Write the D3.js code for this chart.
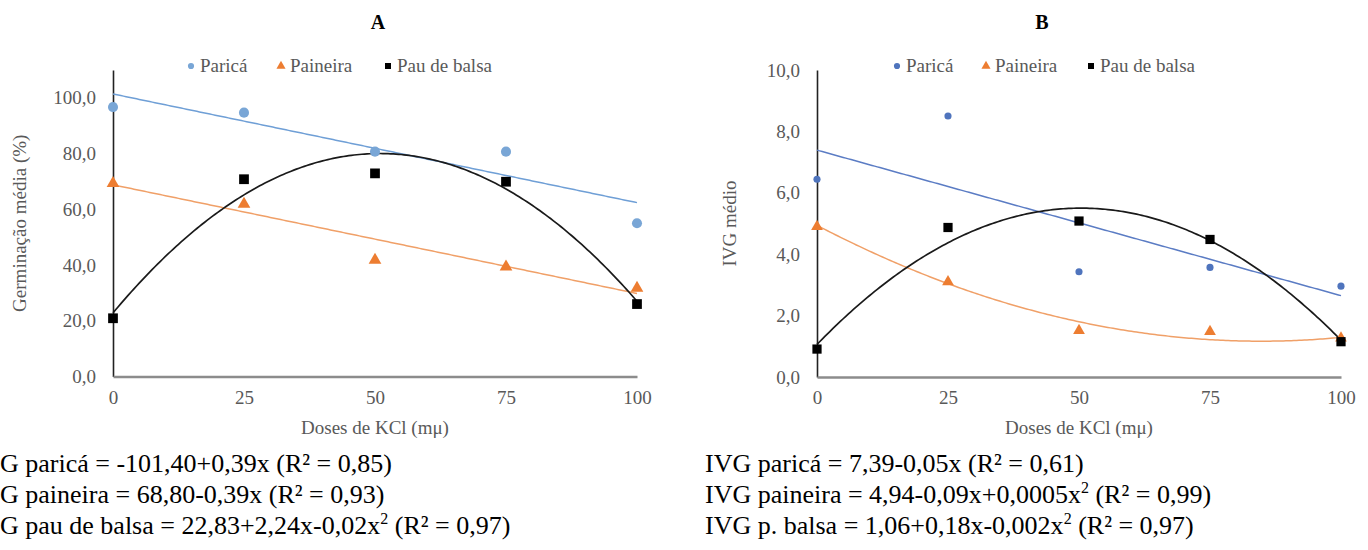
<!DOCTYPE html>
<html>
<head>
<meta charset="utf-8">
<script src="https://cdn.jsdelivr.net/npm/d3@7"></script>
<style>
  body { margin: 0; background: #fff; }
  svg text { font-family: "Liberation Serif", "Times New Roman", serif; }
</style>
</head>
<body>
<svg id="chart" width="1368" height="550"></svg>
<script>
// Doses de KCl
var doses = [0, 25, 50, 75, 100];
var xTicks = [0, 25, 50, 75, 100];

// A - germinação média (%)
var germParica = [96.7, 94.7, 80.7, 80.7, 55.0];
var germPaineira = [69.3, 61.9, 41.8, 39.4, 31.7];
var germBalsa = [20.9, 70.8, 72.9, 69.9, 26.0];
var germTicks = [0, 20, 40, 60, 80, 100];

// B - IVG médio
var ivgParica = [6.44, 8.5, 3.43, 3.57, 2.96];
var ivgPaineira = [4.9, 3.1, 1.51, 1.48, 1.27];
var ivgBalsa = [0.91, 4.87, 5.08, 4.48, 1.15];
var ivgTicks = [0, 2, 4, 6, 8, 10];

// trend line coefficients a + b*x + c*x^2
var germTrendParica = [101.4, -0.39, 0];
var germTrendPaineira = [68.8, -0.39, 0];
var germTrendBalsa = [22.83, 2.245, -0.02203];
var ivgTrendParica = [7.39, -0.0474, 0];
var ivgTrendPaineira = [4.94, -0.0891, 0.000526];
var ivgTrendBalsa = [1.06, 0.1762, -0.001748];

var seriesNames = ["Paricá", "Paineira", "Pau de balsa"];

var eqA = [
  ["G paricá = -101,40+0,39x (R² = 0,85)"],
  ["G paineira = 68,80-0,39x (R² = 0,93)"],
  ["G pau de balsa = 22,83+2,24x-0,02x", "2", " (R² = 0,97)"]
];
var eqB = [
  ["IVG paricá = 7,39-0,05x (R² = 0,61)"],
  ["IVG paineira = 4,94-0,09x+0,0005x", "2", " (R² = 0,99)"],
  ["IVG p. balsa = 1,06+0,18x-0,002x", "2", " (R² = 0,97)"]
];

var serif = "Liberation Serif";
var svg = d3.select("#chart");
var fmt = function(d) { return d3.format(".1f")(d).replace(".", ","); };

function drawPanel(p) {
  var x = d3.scaleLinear().domain([0, 100]).range(p.xRange);
  var y = d3.scaleLinear().domain(p.yDomain).range(p.yRange);
  var g = svg.append("g");

  //Title
  g.append("text")
   .attr("x", p.titleX).attr("y", 29)
   .attr("text-anchor", "middle").attr("font-family", serif)
   .style("font-weight", "bold").style("font-size", "20px")
   .text(p.title);

  //Y axis
  var yAxis = g.append("g")
    .attr("transform", "translate(" + p.xRange[0] + ",0)")
    .call(d3.axisLeft(y).tickValues(p.yTicks).tickFormat(fmt).tickSize(0).tickPadding(17))
    .attr("font-family", serif);
  yAxis.select(".domain").attr("stroke", "#222").attr("stroke-width", 1.6);
  yAxis.selectAll("text").attr("fill", "#595959").attr("font-size", 19);

  //X axis
  var xAxis = g.append("g")
    .attr("transform", "translate(0," + p.yRange[0] + ")")
    .call(d3.axisBottom(x).tickValues(xTicks).tickSize(0).tickPadding(14))
    .attr("font-family", serif);
  xAxis.select(".domain").attr("stroke", "#8c8c8c").attr("stroke-width", 2.5);
  xAxis.selectAll("text").attr("fill", "#595959").attr("font-size", 19);

  //Axis titles
  g.append("text")
   .attr("x", (p.xRange[0] + p.xRange[1]) / 2).attr("y", 434)
   .attr("text-anchor", "middle").attr("fill", "#595959").attr("font-family", serif).style("font-size", "19px")
   .text("Doses de KCl (mμ)");
  g.append("text")
   .attr("transform", "translate(" + p.yTitleX + "," + (p.yRange[0] + p.yRange[1]) / 2 + ") rotate(-90)")
   .attr("text-anchor", "middle").attr("fill", "#595959").attr("font-family", serif).style("font-size", "19px")
   .text(p.yTitle);

  //Trend lines
  var xs = d3.range(0, 100.5, 0.5);
  var line = d3.line().x(function(d) { return x(d[0]); }).y(function(d) { return y(d[1]); });
  p.trends.forEach(function(c, i) {
    g.append("path")
     .datum(xs.map(function(v) { return [v, c[0] + c[1] * v + c[2] * v * v]; }))
     .attr("fill", "none").attr("stroke", p.lineColors[i]).attr("stroke-width", i == 2 ? 1.7 : 1.5)
     .attr("d", line);
  });

  //Points
  var shapes = [d3.symbolCircle, d3.symbolTriangle, d3.symbolSquare];
  p.values.forEach(function(vals, i) {
    g.selectAll(null).data(vals).enter().append("path")
     .attr("transform", function(d, j) { return "translate(" + x(doses[j]) + "," + y(d) + ")"; })
     .attr("d", d3.symbol().type(shapes[i]).size(p.sizes[i]))
     .attr("fill", p.colors[i]);
  });

  //Legend
  var legend = g.append("g").attr("transform", "translate(0,66)");
  seriesNames.forEach(function(name, i) {
    legend.append("path")
      .attr("transform", "translate(" + p.legendX[i] + ",0)")
      .attr("d", d3.symbol().type(shapes[i]).size(i == 0 ? 30 : 36))
      .attr("fill", p.colors[i]);
    legend.append("text")
      .attr("x", p.legendX[i] + 9).attr("y", 6)
      .attr("fill", "#595959").attr("font-family", serif).style("font-size", "19px")
      .text(name);
  });

  //Equations
  p.equations.forEach(function(parts, i) {
    var t = g.append("text").attr("x", p.eqX).attr("y", 472 + i * 31)
      .attr("font-family", serif).style("font-size", "26px").attr("fill", "#000");
    t.append("tspan").text(parts[0]);
    if (parts.length > 1) {
      t.append("tspan").attr("dy", -10).style("font-size", "16px").text(parts[1]);
      t.append("tspan").attr("dy", 10).text(parts[2]);
    }
  });
}

drawPanel({
  title: "A", titleX: 378,
  xRange: [113, 637], yDomain: [0, 110], yRange: [376.5, 70], yTicks: germTicks,
  yTitle: "Germinação média (%)", yTitleX: 26,
  values: [germParica, germPaineira, germBalsa],
  trends: [germTrendParica, germTrendPaineira, germTrendBalsa],
  colors: ["#79a6d6", "#ed7d31", "#000"],
  lineColors: ["#6f9fd6", "#f0a068", "#1a1a1a"],
  sizes: [80, 70, 95],
  legendX: [191, 281, 388],
  equations: eqA, eqX: 0
});

drawPanel({
  title: "B", titleX: 1042,
  xRange: [817, 1341], yDomain: [0, 10], yRange: [377, 70], yTicks: ivgTicks,
  yTitle: "IVG médio", yTitleX: 736,
  values: [ivgParica, ivgPaineira, ivgBalsa],
  trends: [ivgTrendParica, ivgTrendPaineira, ivgTrendBalsa],
  colors: ["#4f74bd", "#ed7d31", "#000"],
  lineColors: ["#5b7cc4", "#f0a068", "#1a1a1a"],
  sizes: [40, 60, 85],
  legendX: [897, 986, 1091],
  equations: eqB, eqX: 705
});
</script>
</body>
</html>
